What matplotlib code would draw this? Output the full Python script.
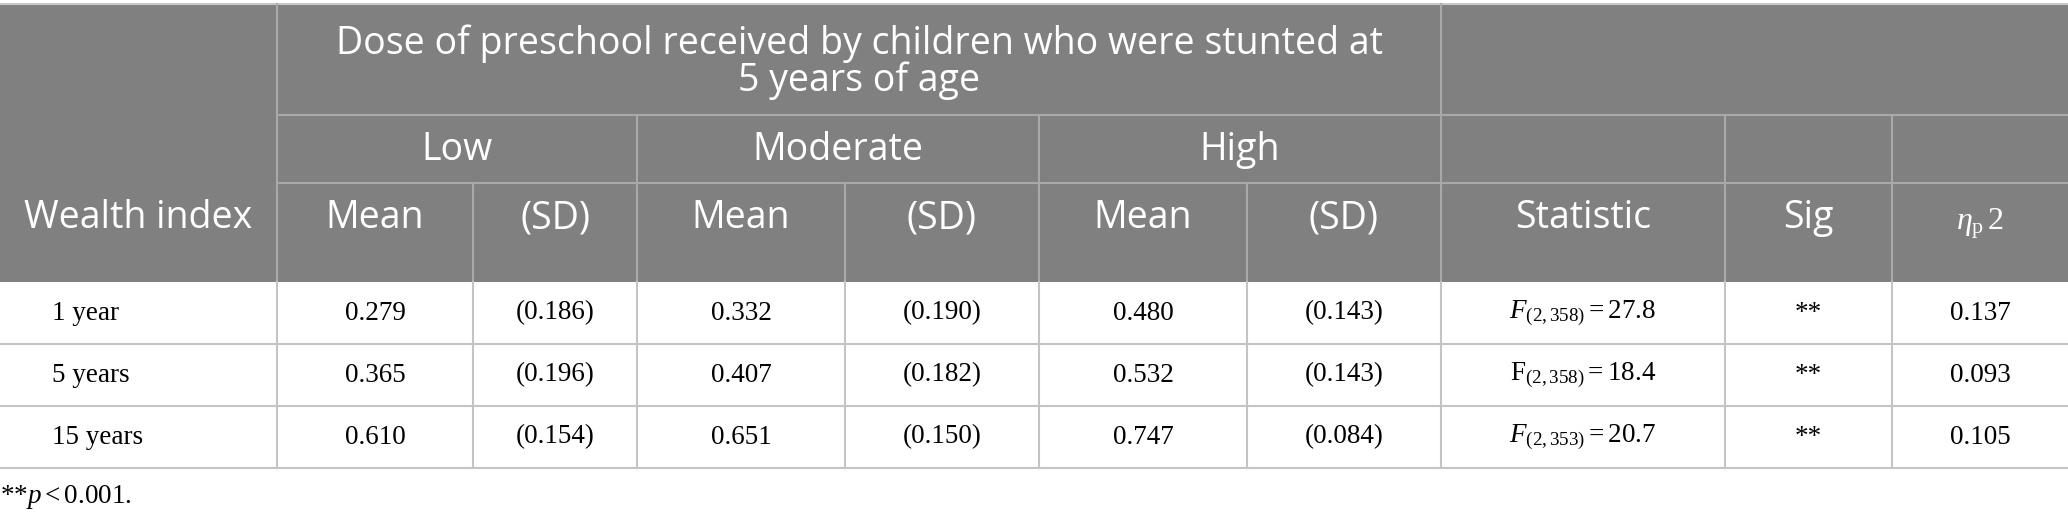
import matplotlib
matplotlib.use("Agg")
import matplotlib.pyplot as plt
from matplotlib.patches import Rectangle

# table values
wealth = ['1 year', '5 years', '15 years']
low_mean = [0.279, 0.365, 0.610]
low_sd = [0.186, 0.196, 0.154]
mod_mean = [0.332, 0.407, 0.651]
mod_sd = [0.190, 0.182, 0.150]
high_mean = [0.480, 0.532, 0.747]
high_sd = [0.143, 0.143, 0.084]
f_df = ['2,358', '2,358', '2,353']
f_val = [27.8, 18.4, 20.7]
f_italic = [True, False, True]
sig = ['**', '**', '**']
eta = [0.137, 0.093, 0.105]

title = 'Dose of preschool received by children who were stunted at\n5 years of age'
levels = ['Low', 'Moderate', 'High']
col_heads = ['Mean', '(SD)', 'Mean', '(SD)', 'Mean', '(SD)', 'Statistic', 'Sig']
eta_head = r'$\eta_{\mathrm{p}}\,2$'
footnote = r'**$p<0.001.$'

plt.rcParams['mathtext.fontset'] = 'custom'
plt.rcParams['mathtext.rm'] = 'Liberation Serif'
plt.rcParams['mathtext.it'] = 'Liberation Serif:italic'
plt.rcParams['mathtext.bf'] = 'Liberation Serif:bold'

W, H = 2068, 522
fig = plt.figure(figsize=(W / 100, H / 100), dpi=100)
ax = fig.add_axes([0, 0, 1, 1])
ax.set_xlim(0, W)
ax.set_ylim(H, 0)
ax.axis('off')

# layout in pixels
xs = [0, 277, 473, 637, 845, 1039, 1247, 1441, 1725, 1892, 2068]
y_top, y_t, y_l, y_h = 4, 115, 183, 282
row_h = 62
y_rows = [y_h + i * row_h for i in range(len(wealth) + 1)]

head_bg = '#808080'
head_line = '#a9a9a9'
body_line = '#c4c4c4'
hfont = 'Open Sans'
dfont = 'Liberation Serif'
hsize = 27
dsize = 19.5

ax.add_patch(Rectangle((0, y_top), W, y_h - y_top, color=head_bg, lw=0, zorder=0))
ax.plot([0, W], [y_top, y_top], color='#c8c8c8', lw=1.5)

# header grid
ax.plot([xs[1], W], [y_t, y_t], color=head_line, lw=1.5)
ax.plot([xs[1], W], [y_l, y_l], color=head_line, lw=1.5)
for x in [xs[1], xs[7]]:
    ax.plot([x, x], [y_top, y_h], color=head_line, lw=1.5)
for x in [xs[3], xs[5], xs[8], xs[9]]:
    ax.plot([x, x], [y_t, y_h], color=head_line, lw=1.5)
for x in [xs[2], xs[4], xs[6]]:
    ax.plot([x, x], [y_l, y_h], color=head_line, lw=1.5)

# header text
ax.text(xs[1] / 2, 218, 'Wealth index', color='white', family=hfont,
        fontsize=hsize, ha='center', va='center')
ax.text((xs[1] + xs[7]) / 2, 62, title, color='white', family=hfont,
        fontsize=hsize, ha='center', va='center', linespacing=0.95)
for i, lev in enumerate(levels):
    ax.text((xs[1 + 2 * i] + xs[3 + 2 * i]) / 2, 150, lev, color='white',
            family=hfont, fontsize=hsize, ha='center', va='center')
for i, ch in enumerate(col_heads):
    ax.text((xs[1 + i] + xs[2 + i]) / 2, 218, ch, color='white',
            family=hfont, fontsize=hsize, ha='center', va='center')
ax.text((xs[9] + xs[10]) / 2, 224, eta_head, color='white',
        fontsize=23, ha='center', va='center')

# body grid
for y in y_rows[1:]:
    ax.plot([0, W], [y, y], color=body_line, lw=1.5)
for x in xs[1:-1]:
    ax.plot([x, x], [y_h, y_rows[-1]], color=body_line, lw=1.5)

# body text
for r in range(len(wealth)):
    yc = (y_rows[r] + y_rows[r + 1]) / 2
    ax.text(52, yc, wealth[r], family=dfont, fontsize=dsize, ha='left', va='center')
    f = 'F' if f_italic[r] else r'\mathrm{F}'
    cells = ['%.3f' % low_mean[r], '(%.3f)' % low_sd[r],
             '%.3f' % mod_mean[r], '(%.3f)' % mod_sd[r],
             '%.3f' % high_mean[r], '(%.3f)' % high_sd[r],
             r'$%s_{(%s)} = %.1f$' % (f, f_df[r], f_val[r]),
             sig[r], '%.3f' % eta[r]]
    for c, txt in enumerate(cells):
        ax.text((xs[1 + c] + xs[2 + c]) / 2, yc, txt, family=dfont,
                fontsize=dsize, ha='center', va='center')

ax.text(0, 497, footnote, family=dfont, fontsize=dsize, ha='left', va='center')

fig.savefig('out.png', dpi=100)
